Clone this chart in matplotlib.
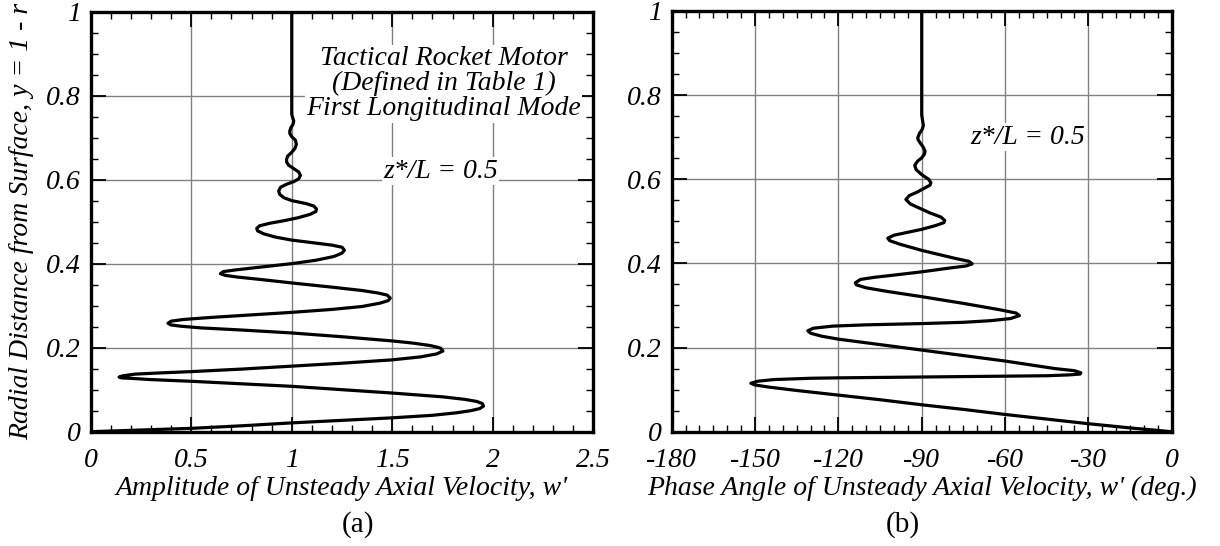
import matplotlib
matplotlib.use("Agg")
import matplotlib.pyplot as plt
from matplotlib.ticker import MultipleLocator, FixedLocator

plt.rcParams['font.family'] = ['Liberation Serif', 'DejaVu Serif']

# ---- Panel (a): amplitude vs radial distance ----
amp_x = [0.0, 0.25, 0.5, 0.75, 1.0, 1.25, 1.5, 1.7, 1.82, 1.89, 1.935, 1.954,
         1.948, 1.92, 1.86, 1.75, 1.5, 1.25, 1.0, 0.75, 0.5, 0.3, 0.2, 0.155, 0.141,
         0.16, 0.22, 0.35, 0.5, 0.75, 1.0, 1.25, 1.5, 1.64, 1.72, 1.752,
         1.74, 1.69, 1.6, 1.5, 1.25, 1.0, 0.75, 0.55, 0.45, 0.40, 0.384,
         0.40, 0.46, 0.6, 0.8, 1.0, 1.2, 1.35, 1.44, 1.48, 1.490,
         1.475, 1.43, 1.35, 1.2, 1.0, 0.85, 0.73, 0.67, 0.645,
         0.66, 0.72, 0.85, 1.0, 1.12, 1.21, 1.25, 1.262,
         1.25, 1.2, 1.1, 1.0, 0.92, 0.86, 0.83, 0.826,
         0.84, 0.89, 0.96, 1.03, 1.09, 1.12, 1.123,
         1.11, 1.07, 1.0, 0.96, 0.94, 0.935,
         0.945, 0.975, 1.01, 1.035, 1.043,
         1.035, 1.01, 0.985, 0.975, 0.974,
         0.98, 1.0, 1.016, 1.023,
         1.018, 1.0, 0.991, 0.990,
         0.996, 1.006, 1.010, 1.005, 1.0, 1.0]
amp_y = [0.0, 0.004, 0.008, 0.014, 0.021, 0.027, 0.033, 0.039, 0.045, 0.050, 0.055, 0.061,
         0.067, 0.072, 0.077, 0.083, 0.092, 0.100, 0.108, 0.114, 0.120, 0.124, 0.127, 0.128, 0.130,
         0.133, 0.137, 0.140, 0.143, 0.149, 0.156, 0.163, 0.171, 0.178, 0.185, 0.192,
         0.199, 0.205, 0.211, 0.216, 0.226, 0.235, 0.242, 0.247, 0.251, 0.254, 0.258,
         0.263, 0.267, 0.272, 0.278, 0.284, 0.291, 0.298, 0.306, 0.312, 0.318,
         0.325, 0.330, 0.336, 0.344, 0.354, 0.362, 0.368, 0.372, 0.376,
         0.381, 0.385, 0.392, 0.400, 0.408, 0.417, 0.425, 0.432,
         0.439, 0.444, 0.450, 0.456, 0.463, 0.471, 0.478, 0.484,
         0.490, 0.496, 0.502, 0.509, 0.517, 0.524, 0.530,
         0.537, 0.543, 0.550, 0.557, 0.565, 0.573,
         0.582, 0.589, 0.595, 0.602, 0.610,
         0.618, 0.626, 0.634, 0.641, 0.648,
         0.656, 0.665, 0.674, 0.684,
         0.694, 0.702, 0.709, 0.715,
         0.724, 0.731, 0.739, 0.747, 0.755, 1.0]

# ---- Panel (b): phase angle vs radial distance ----
phase_x = [0.0, -15, -30, -45, -60, -75, -90, -105, -120, -135, -145, -150, -151.5,
           -149, -143, -130, -120, -90, -60, -45, -37, -33, -32.7,
           -35, -42, -50, -60, -75, -90, -105, -120, -126, -130, -131,
           -129, -122, -110, -90, -75, -65, -58, -54.8,
           -56, -62, -75, -90, -102, -110, -113.5, -113.9,
           -112, -107, -99, -90, -80, -74, -71.8,
           -73, -78, -90, -98, -101.5, -102.2,
           -100, -95, -90, -85, -82, -81.7,
           -83, -87, -90, -94, -95.7,
           -94.5, -91.5, -89, -87, -86.7,
           -87.5, -90, -92, -92.5,
           -91.5, -90, -89, -88.8,
           -89.5, -90.5, -91.3, -91.4,
           -90.8, -89.8, -89.4, -89.7, -90, -90]
phase_y = [0.0, 0.009, 0.019, 0.030, 0.041, 0.053, 0.064, 0.076, 0.087, 0.098, 0.106, 0.111, 0.115,
           0.120, 0.124, 0.127, 0.128, 0.130, 0.132, 0.133, 0.135, 0.137, 0.140,
           0.145, 0.150, 0.158, 0.168, 0.181, 0.194, 0.207, 0.220, 0.227, 0.234, 0.240,
           0.246, 0.251, 0.254, 0.257, 0.260, 0.264, 0.269, 0.276,
           0.282, 0.290, 0.305, 0.321, 0.333, 0.342, 0.349, 0.354,
           0.362, 0.367, 0.373, 0.380, 0.389, 0.394, 0.399,
           0.405, 0.412, 0.431, 0.446, 0.454, 0.460,
           0.467, 0.474, 0.481, 0.490, 0.497, 0.502,
           0.510, 0.520, 0.529, 0.541, 0.552,
           0.561, 0.570, 0.579, 0.586, 0.592,
           0.600, 0.611, 0.623, 0.633,
           0.643, 0.651, 0.660, 0.667,
           0.677, 0.686, 0.694, 0.699,
           0.709, 0.719, 0.728, 0.740, 0.753, 1.0]

amp_ticks = [0, 0.5, 1, 1.5, 2, 2.5]
amp_labels = ['0', '0.5', '1', '1.5', '2', '2.5']
phase_ticks = [-180, -150, -120, -90, -60, -30, 0]
phase_labels = ['-180', '-150', '-120', '-90', '-60', '-30', '0']
y_ticks = [0, 0.2, 0.4, 0.6, 0.8, 1]
y_labels = ['0', '0.2', '0.4', '0.6', '0.8', '1']

W, H = 1220, 546
fig = plt.figure(figsize=(W / 100, H / 100), dpi=100)
ax1 = fig.add_axes([90.7 / W, (H - 431.7) / H, 502.6 / W, 420.2 / H])
ax2 = fig.add_axes([671.7 / W, (H - 431.7) / H, 500.0 / W, 420.7 / H])

tick_font = dict(family='Liberation Serif', style='italic', size=20)

def style(ax, xt, xl, xminor, xlim):
    ax.set_xlim(*xlim)
    ax.set_ylim(0, 1)
    ax.xaxis.set_major_locator(FixedLocator(xt))
    ax.set_xticklabels(xl, fontdict=tick_font)
    ax.yaxis.set_major_locator(FixedLocator(y_ticks))
    ax.set_yticklabels(y_labels, fontdict=tick_font)
    ax.xaxis.set_minor_locator(MultipleLocator(xminor))
    ax.yaxis.set_minor_locator(MultipleLocator(0.05))
    ax.tick_params(which='both', direction='in', top=True, right=True, color='black')
    ax.tick_params(which='major', length=11, width=1.3)
    ax.tick_params(which='minor', length=5, width=1.0)
    ax.tick_params(axis='x', which='major', pad=12)
    ax.tick_params(axis='y', which='major', pad=7)
    ax.grid(True, which='major', color='#808080', linewidth=1.0)
    ax.set_axisbelow(True)
    for s in ax.spines.values():
        s.set_linewidth(2.4)
        s.set_zorder(5)

style(ax1, amp_ticks, amp_labels, 0.1, (0, 2.5))
style(ax2, phase_ticks, phase_labels, 5, (-180, 0))

ax1.plot(amp_x, amp_y, color='black', linewidth=2.3, solid_joinstyle='round', zorder=3)
ax2.plot(phase_x, phase_y, color='black', linewidth=2.3, solid_joinstyle='round', zorder=3)

lab_font = dict(family='Liberation Serif', style='italic', size=20)
ax1.set_xlabel("Amplitude of Unsteady Axial Velocity, w'", fontdict=lab_font, labelpad=2)
ax2.set_xlabel("Phase Angle of Unsteady Axial Velocity, w' (deg.)", fontdict=lab_font, labelpad=2)
ax1.set_ylabel("Radial Distance from Surface, y = 1 - r", fontdict=lab_font, labelpad=9)

box = dict(facecolor='white', edgecolor='none', pad=1)
ax1.text(1.755, 0.828, "Tactical Rocket Motor\n(Defined in Table 1)\nFirst Longitudinal Mode",
         ha='center', va='center', fontsize=20, style='italic', linespacing=1.0,
         bbox=box, zorder=4)
ax1.text(1.74, 0.62, "z*/L = 0.5", ha='center', va='center', fontsize=20,
         style='italic', bbox=box, zorder=4)
ax2.text(-52, 0.70, "z*/L = 0.5", ha='center', va='center', fontsize=20,
         style='italic', bbox=box, zorder=4)

fig.text(358 / W, 1 - 525 / H, "(a)", ha='center', va='center', fontsize=21)
fig.text(903 / W, 1 - 525 / H, "(b)", ha='center', va='center', fontsize=21)

fig.savefig("out.png", dpi=100)
